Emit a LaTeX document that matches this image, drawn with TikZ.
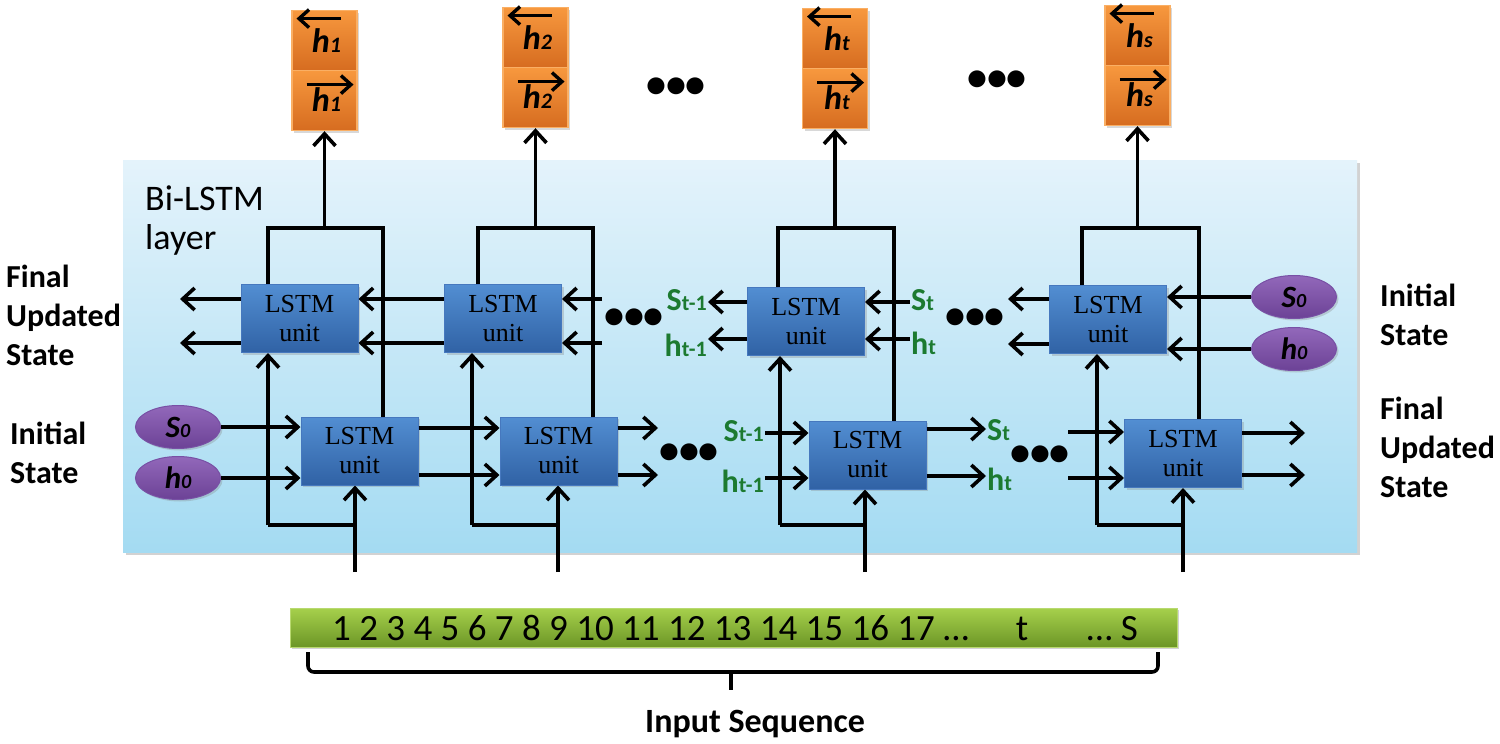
\documentclass[tikz,border=0pt]{standalone}
\usepackage{fontspec}
\setmainfont{Liberation Serif}
\newfontfamily\calfont{Carlito}
\usetikzlibrary{arrows.meta,shadows,calc,shapes.geometric}
\definecolor{paneltop}{RGB}{228,243,251}
\definecolor{panelbot}{RGB}{164,219,242}
\definecolor{lstmtop}{RGB}{82,142,210}
\definecolor{lstmbot}{RGB}{48,98,165}
\definecolor{lstmborder}{RGB}{70,120,190}
\definecolor{orgtop}{RGB}{247,152,62}
\definecolor{orgbot}{RGB}{214,108,32}
\definecolor{orgborder}{RGB}{250,175,100}
\definecolor{purptop}{RGB}{146,104,186}
\definecolor{purpbot}{RGB}{108,66,150}
\definecolor{purpborder}{RGB}{120,80,165}
\definecolor{bartop}{RGB}{166,208,76}
\definecolor{barbot}{RGB}{108,150,38}
\definecolor{lblgreen}{RGB}{28,122,48}
\newcommand{\mkh}[1]{{\calfont\bfseries\itshape\fontsize{34}{34}\selectfont h{\fontsize{22}{22}\selectfont #1}}}
\newcommand{\mkinit}[2]{{\calfont\bfseries\itshape\fontsize{31}{31}\selectfont #1{\fontsize{20}{20}\selectfont #2}}}
\newcommand{\mkgreen}[2]{{\calfont\bfseries\color{lblgreen}\fontsize{32}{32}\selectfont #1{\fontsize{22}{22}\selectfont #2}}}
\begin{document}
\begin{tikzpicture}[x=1pt,y=-1pt,
  conn/.style={line width=3.6pt, draw=black},
  arr/.style={conn, -{Straight Barb[length=12pt,width=22pt]}},
  vec/.style={line width=3.4pt, -{Straight Barb[length=10pt,width=18pt]}},
  panelbox/.style={rectangle, top color=paneltop, bottom color=panelbot, draw=none,
    minimum width=1234pt, minimum height=392pt, inner sep=0pt,
    drop shadow={shadow xshift=3pt, shadow yshift=-3pt, opacity=0.35, fill=gray}},
  lstm/.style={rectangle, draw=lstmborder, line width=1pt, top color=lstmtop, bottom color=lstmbot,
    minimum width=117pt, minimum height=68pt, inner sep=0pt, align=center,
    font=\fontsize{26}{29}\selectfont, text=black,
    drop shadow={shadow xshift=2pt, shadow yshift=-2pt, opacity=0.3}},
  obox/.style={rectangle, draw=orgborder, line width=1.2pt, top color=orgtop, bottom color=orgbot,
    minimum width=65pt, minimum height=60pt, inner sep=0pt,
    drop shadow={shadow xshift=2pt, shadow yshift=-2pt, opacity=0.3}},
  init/.style={ellipse, draw=purpborder, line width=1pt, top color=purptop, bottom color=purpbot,
    minimum width=85pt, minimum height=43pt, inner sep=0pt,
    drop shadow={shadow xshift=2pt, shadow yshift=-2pt, opacity=0.3}},
  seqbar/.style={rectangle, draw=bartop!80!white, line width=1pt, top color=bartop, bottom color=barbot,
    minimum width=887pt, minimum height=39pt, inner sep=0pt,
    drop shadow={shadow xshift=2pt, shadow yshift=-2pt, opacity=0.35}},
  sidelbl/.style={anchor=north west, align=left, inner sep=0pt,
    font=\calfont\bfseries\fontsize{32}{39}\selectfont},
  dots/.style={inner sep=0pt, font=\calfont\bfseries\fontsize{40}{40}\selectfont}
]
\useasboundingbox (0,0) rectangle (1500,744);
\fill[white] (0,0) rectangle (1500,744);

% panel
\node[panelbox] (panel) at (740,356) {};
\node[anchor=north west, align=left, inner sep=0pt, font=\calfont\fontsize{36}{39}\selectfont] (layerlbl) at (145,186) {Bi-LSTM\\layer};

% orange output boxes
\foreach \i/\xo/\yo/\s in {1/324.5/10/1, 2/535.5/7/2, 3/835/8/t, 4/1137.5/5/s} {
  \node[obox, anchor=north] (ob\i) at (\xo,\yo) {};
  \node[obox, anchor=north] (of\i) at (\xo,\yo+60) {};
  \draw[vec] ($(ob\i.center)+(16,-22)$) -- ($(ob\i.center)+(-28,-22)$);
  \node[anchor=base, inner sep=0pt] (obt\i) at ($(ob\i.center)+(2,12)$) {\mkh{\s}};
  \draw[vec] ($(of\i.center)+(-18,-16)$) -- ($(of\i.center)+(29,-16)$);
  \node[anchor=base, inner sep=0pt] (oft\i) at ($(of\i.center)+(2,11)$) {\mkh{\s}};
}

% LSTM units
\node[lstm] (bu1) at (299.5,318.5) {LSTM\\unit};
\node[lstm] (bu2) at (503,318.5) {LSTM\\unit};
\node[lstm] (bu3) at (806,321.5) {LSTM\\unit};
\node[lstm] (bu4) at (1108,319.5) {LSTM\\unit};
\node[lstm] (bl1) at (359.5,451) {LSTM\\unit};
\node[lstm] (bl2) at (558.5,451) {LSTM\\unit};
\node[lstm] (bl3) at (867.5,455) {LSTM\\unit};
\node[lstm] (bl4) at (1183,453.5) {LSTM\\unit};

% initial states
\node[init] (s0l) at (178,427) {\mkinit{S}{0}};
\node[init] (h0l) at (178,478) {\mkinit{h}{0}};
\node[init] (s0r) at (1294,297) {\mkinit{S}{0}};
\node[init] (h0r) at (1294,349) {\mkinit{h}{0}};

% brackets, vertical paths, inputs
\foreach \i/\xlt/\xlin/\xr/\xin/\xo in {1/268/268/383/355/324.5, 2/478/472/593/558/535.5, 3/778/780/894/865/835, 4/1082/1097/1199/1183/1137.5} {
  \coordinate (top\i) at (\xo,228);
  \coordinate (in\i) at (\xin,572);
  \coordinate (jn\i) at (\xlin,525);
  \draw[conn] (bu\i.north -| \xlt,0) -- (\xlt,228) -- (\xr,228) -- (bl\i.north -| \xr,0);
  \draw[arr] (top\i) -- (of\i.south);
  \draw[arr] (in\i) -- (in\i |- bl\i.south);
  \draw[conn] (in\i |- jn\i) -- (jn\i);
  \draw[arr] (jn\i) -- (jn\i |- bu\i.south);
}

% upper (backward) row
\coordinate (ul1) at (180,299); \coordinate (ul2) at (180,343);
\draw[arr] (bu1.west |- ul1) -- (ul1);
\draw[arr] (bu1.west |- ul2) -- (ul2);
\draw[arr] (bu2.west |- 0,299) -- (bu1.east |- 0,299);
\draw[arr] (bu2.west |- 0,343) -- (bu1.east |- 0,343);
\coordinate (ur1) at (602,299); \coordinate (ur2) at (602,343);
\draw[arr] (ur1) -- (bu2.east |- ur1);
\draw[arr] (ur2) -- (bu2.east |- ur2);
\node[dots] (dU1) at (634,319) {•••};

\node[anchor=east, inner sep=1pt] (gSu) at (708,300) {\mkgreen{S}{t-1}};
\node[anchor=east, inner sep=1pt] (gHu) at (708,345) {\mkgreen{h}{t-1}};
\draw[arr] (bu3.west |- 0,302) -- (gSu.east |- 0,302);
\draw[arr] (bu3.west |- 0,339) -- (gHu.east |- 0,339);
\node[anchor=west, inner sep=1pt] (gSu2) at (910,300) {\mkgreen{S}{t}};
\node[anchor=west, inner sep=1pt] (gHu2) at (910,343) {\mkgreen{h}{t}};
\draw[arr] (gSu2.west |- 0,302) -- (bu3.east |- 0,302);
\draw[arr] (gHu2.west |- 0,339) -- (bu3.east |- 0,339);
\node[dots] (dU2) at (975,319) {•••};

\coordinate (ul3) at (1008,299); \coordinate (ul4) at (1008,344);
\draw[arr] (bu4.west |- ul3) -- (ul3);
\draw[arr] (bu4.west |- ul4) -- (ul4);
\draw[arr] (s0r.west) -- (bu4.east |- s0r.west);
\draw[arr] (h0r.west) -- (bu4.east |- h0r.west);

% lower (forward) row
\draw[arr] (s0l.east) -- (bl1.west |- s0l.east);
\draw[arr] (h0l.east) -- (bl1.west |- h0l.east);
\draw[arr] (bl1.east |- 0,428) -- (bl2.west |- 0,428);
\draw[arr] (bl1.east |- 0,475) -- (bl2.west |- 0,475);
\coordinate (lr1) at (658,428); \coordinate (lr2) at (658,475);
\draw[arr] (bl2.east |- lr1) -- (lr1);
\draw[arr] (bl2.east |- lr2) -- (lr2);
\node[dots] (dL1) at (689,454) {•••};

\node[anchor=east, inner sep=1pt] (gSl) at (765,431) {\mkgreen{S}{t-1}};
\node[anchor=east, inner sep=1pt] (gHl) at (765,481) {\mkgreen{h}{t-1}};
\draw[arr] (gSl.east |- 0,433) -- (bl3.west |- 0,433);
\draw[arr] (gHl.east |- 0,478) -- (bl3.west |- 0,478);
\node[anchor=west, inner sep=1pt] (gSl2) at (986,430) {\mkgreen{S}{t}};
\node[anchor=west, inner sep=1pt] (gHl2) at (986,479) {\mkgreen{h}{t}};
\draw[arr] (bl3.east |- 0,429) -- (gSl2.west |- 0,429);
\draw[arr] (bl3.east |- 0,476) -- (gHl2.west |- 0,476);
\node[dots] (dL2) at (1040,456) {•••};

\coordinate (ll3) at (1068,432); \coordinate (ll4) at (1068,478);
\draw[arr] (ll3) -- (bl4.west |- ll3);
\draw[arr] (ll4) -- (bl4.west |- ll4);
\coordinate (lo1) at (1305,433); \coordinate (lo2) at (1305,475);
\draw[arr] (bl4.east |- lo1) -- (lo1);
\draw[arr] (bl4.east |- lo2) -- (lo2);

% top dots
\node[dots] (dT1) at (676,88) {•••};
\node[dots] (dT2) at (997,81) {•••};

% side labels
\node[sidelbl] (finL) at (6,265) {Final\\Updated\\State};
\node[sidelbl] (iniL) at (10,422) {Initial\\State};
\node[sidelbl] (iniR) at (1380,284) {Initial\\State};
\node[sidelbl] (finR) at (1380,397) {Final\\Updated\\State};

% input sequence
\node[seqbar] (seq) at (733.5,627.5) {};
\node[anchor=base west, inner sep=0pt, font=\calfont\fontsize{37}{37}\selectfont] (nums) at (332,640) {1 2 3 4 5 6 7 8 9 10 11 12 13 14 15 16 17 …};
\node[anchor=base, inner sep=0pt, font=\calfont\fontsize{37}{37}\selectfont] (tt) at (1022,640) {t};
\node[anchor=base east, inner sep=0pt, font=\calfont\fontsize{37}{37}\selectfont] (ss) at (1138,640) {… S};
\coordinate (brL) at (308,652); \coordinate (brR) at (1158,652); \coordinate (brM) at (731,672);
\draw[conn, rounded corners=6pt] (brL) -- (308,672) -- (1158,672) -- (brR);
\draw[conn] (brM) -- (731,690);
\node[anchor=base, inner sep=0pt, font=\calfont\bfseries\fontsize{34}{34}\selectfont] (inlbl) at (755,732) {Input Sequence};
\end{tikzpicture}
\end{document}
